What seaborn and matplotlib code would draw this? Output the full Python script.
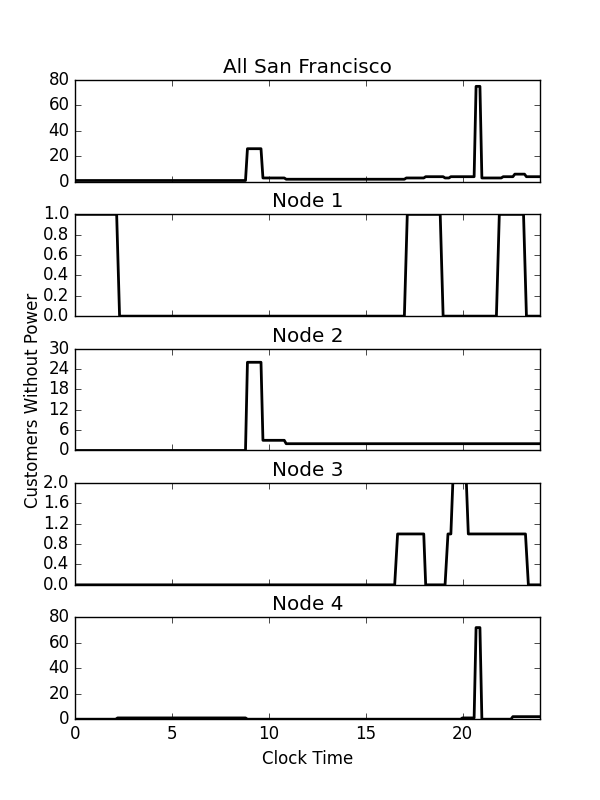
import numpy as np
import pandas as pd
import matplotlib
matplotlib.use("Agg")
import matplotlib.pyplot as plt
import seaborn as sns

# piecewise breakpoints (hour, customers)
sf_t = [0, 8.8, 8.9, 9.6, 9.7, 10.8, 10.9, 17.0, 17.1, 18.0, 18.1, 19.0, 19.1, 19.3, 19.4, 20.6, 20.7, 20.9, 21.0, 22.0, 22.1, 22.6, 22.7, 23.2, 23.3, 24]
sf_v = [1, 1, 26, 26, 3, 3, 2, 2, 3, 3, 4, 4, 3, 3, 4, 4, 75, 75, 3, 3, 4, 4, 6, 6, 4, 4]

n1_t = [0, 2.15, 2.3, 17.0, 17.15, 18.85, 19.0, 21.75, 21.9, 23.15, 23.3, 24]
n1_v = [1, 1, 0, 0, 1, 1, 0, 0, 1, 1, 0, 0]

n2_t = [0, 8.8, 8.9, 9.6, 9.7, 10.8, 10.9, 24]
n2_v = [0, 0, 26, 26, 3, 3, 2, 2]

n3_t = [0, 16.5, 16.65, 18.0, 18.1, 19.1, 19.25, 19.4, 19.6, 20.1, 20.3, 23.25, 23.4, 24]
n3_v = [0, 0, 1, 1, 0, 0, 1, 1, 3, 3, 1, 1, 0, 0]

n4_t = [0, 2.1, 2.2, 8.8, 8.9, 19.9, 20.0, 20.6, 20.7, 20.9, 21.0, 22.5, 22.6, 24]
n4_v = [0, 0, 1, 1, 0, 0, 1, 1, 72, 72, 0, 0, 2, 2]

titles = ["All San Francisco", "Node 1", "Node 2", "Node 3", "Node 4"]
series = [(sf_t, sf_v), (n1_t, n1_v), (n2_t, n2_v), (n3_t, n3_v), (n4_t, n4_v)]
ylims = [(0, 80), (0, 1.0), (0, 30), (0, 2.0), (0, 80)]
ysteps = [20, 0.2, 6, 0.4, 20]

plt.style.use("classic")
plt.rcParams["figure.facecolor"] = "white"
plt.rcParams["savefig.facecolor"] = "white"

fig, axes = plt.subplots(5, 1, figsize=(6, 8), dpi=100, sharex=False)
fig.subplots_adjust(left=0.125, right=0.9, top=0.9, bottom=0.101, hspace=0.32)

for ax, title, (t, v), yl, st in zip(axes, titles, series, ylims, ysteps):
    df = pd.DataFrame({"t": t, "v": v})
    sns.lineplot(data=df, x="t", y="v", ax=ax, color="black", linewidth=2, sort=False)
    ax.set_title(title)
    ax.set_xlim(0, 24)
    ax.set_ylim(*yl)
    ax.set_yticks(np.arange(yl[0], yl[1] + st / 2, st))
    ax.set_xlabel("")
    ax.set_ylabel("")
    if ax is not axes[-1]:
        ax.set_xticklabels([])

for ax in axes[1:4]:
    ax.yaxis.set_major_formatter(matplotlib.ticker.FormatStrFormatter("%.1f") if ax in (axes[1], axes[3]) else matplotlib.ticker.ScalarFormatter())

axes[-1].set_xlabel("Clock Time")
fig.text(0.055, 0.5, "Customers Without Power", rotation=90, va="center", ha="center", fontsize=12)

plt.savefig("out.png", dpi=100)
